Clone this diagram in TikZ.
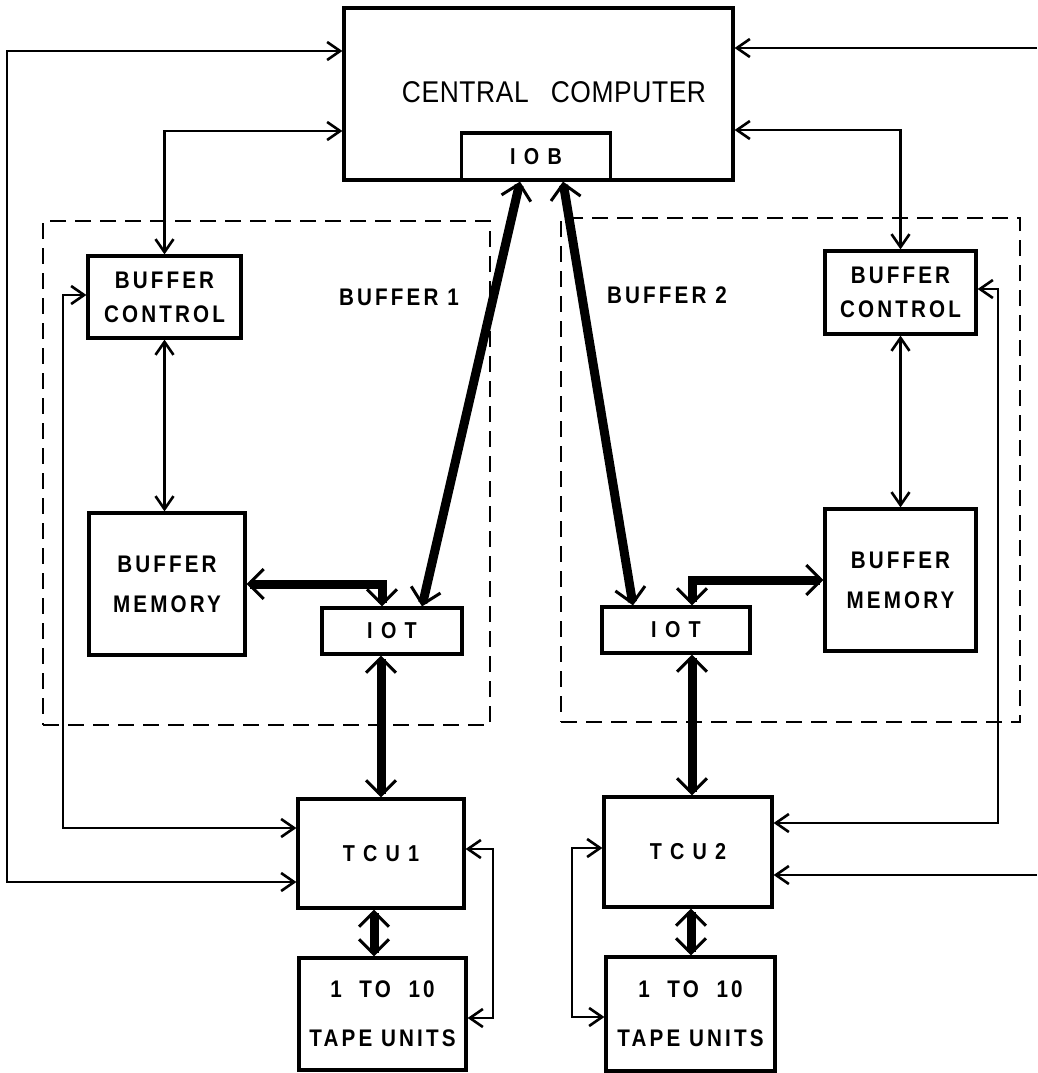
\documentclass[tikz,border=0pt]{standalone}
\usepackage{fontspec}
\setmainfont{Liberation Sans}
\newfontfamily\titlefont{Liberation Sans}[FakeStretch=0.88, LetterSpace=2]
\newfontfamily\boxfont{Liberation Sans}[LetterSpace=13, FakeStretch=0.86]
\newfontfamily\widefont{Liberation Sans}[LetterSpace=36, FakeStretch=0.86]
\newcommand\boxtext{\boxfont\bfseries\fontsize{24}{34}\selectfont}
\newcommand\widetext{\widefont\bfseries\fontsize{23}{34}\selectfont}
\newcommand\titletext{\titlefont\fontsize{30}{34}\selectfont}
\usetikzlibrary{arrows.meta}

\begin{document}
\begin{tikzpicture}[x=1pt, y=-1pt,
  >={Straight Barb[length=13pt, width=18pt]},
  box/.style={draw, line width=3.2pt, inner sep=0pt, align=center, font=\boxtext},
  thin_link/.style={line width=2.6pt},
  bus_link/.style={line width=9pt,
    {Straight Barb[length=15pt, width=30pt, line width=3pt]}-{Straight Barb[length=15pt, width=30pt, line width=3pt]}},
  group_frame/.style={draw, dash pattern=on 16pt off 9pt, line width=2.6pt, inner sep=0pt}]
\useasboundingbox (0,0) rectangle (1037,1073);

\node[name=central, box, minimum width=389pt, minimum height=172pt] at (538.5,94) {};
\node[name=central_text, font=\titletext] at (554,92) {CENTRAL\hspace{22pt}COMPUTER};
\node[name=iob, box, minimum width=149pt, minimum height=47pt, font=\widetext] at (536,156.5) {IOB};

\node[name=buffer_frame_1, group_frame, minimum width=447pt, minimum height=504pt] at (266.5,473) {};
\node[name=buffer_frame_2, group_frame, minimum width=459pt, minimum height=504pt] at (790.5,470) {};
\node[name=buffer_label_1, font=\boxtext] at (399,297) {BUFFER 1};
\node[name=buffer_label_2, font=\boxtext] at (667,295) {BUFFER 2};

\node[name=buf_ctrl_1, box, minimum width=153pt, minimum height=82pt] at (164.5,297) {BUFFER\\CONTROL};
\node[name=buf_ctrl_2, box, minimum width=151pt, minimum height=83pt] at (900.5,292.5) {BUFFER\\CONTROL};
\node[name=buf_mem_1, box, minimum width=156pt, minimum height=142pt] at (167,584) {BUFFER\\[6pt]MEMORY};
\node[name=buf_mem_2, box, minimum width=151pt, minimum height=142pt] at (900.5,580) {BUFFER\\[6pt]MEMORY};
\node[name=iot_1, box, minimum width=140pt, minimum height=46pt, font=\widetext] at (392,631) {IOT};
\node[name=iot_2, box, minimum width=148pt, minimum height=46pt, font=\widetext] at (676,630) {IOT};

\node[name=tcu_1, box, minimum width=166pt, minimum height=109pt, font=\widetext] at (381,853.5) {TCU1};
\node[name=tcu_2, box, minimum width=168pt, minimum height=110pt, font=\widetext] at (688,852) {TCU2};
\node[name=tape_1, box, minimum width=167pt, minimum height=112pt] at (382.5,1014) {1 \ TO \ 10\\[15pt]TAPE UNITS};
\node[name=tape_2, box, minimum width=169pt, minimum height=114pt] at (690.5,1014) {1 \ TO \ 10\\[15pt]TAPE UNITS};

% corner points of the control lines
\coordinate (outer_left_top) at (7,51);
\coordinate (outer_left_bottom) at (7,882);
\coordinate (ctrl_left_top) at (63,295);
\coordinate (ctrl_left_bottom) at (63,828);
\coordinate (cpu_link_1) at (0,131);
\coordinate (tape_loop_1_top) at (493,849);
\coordinate (tape_loop_1_bottom) at (493,1018);
\coordinate (outer_right_top) at (1037,48);
\coordinate (outer_right_bottom) at (1037,875);
\coordinate (ctrl_right_top) at (998,289);
\coordinate (ctrl_right_bottom) at (998,823);
\coordinate (cpu_link_2) at (0,130);
\coordinate (tape_loop_2_top) at (572,848);
\coordinate (tape_loop_2_bottom) at (572,1017);

% data buses
\draw[bus_link] (buf_mem_1.east) -| ([xshift=-10pt]iot_1.north);
\draw[bus_link] ([xshift=-16pt]iob.south) -- ([xshift=30pt]iot_1.north);
\draw[bus_link] (iot_1.south -| tcu_1.north) -- (tcu_1.north);
\draw[bus_link] ([xshift=-7pt]tcu_1.south) -- ([xshift=-7pt]tcu_1.south |- tape_1.north);
\draw[bus_link] (buf_mem_2.west) -| ([xshift=16pt]iot_2.north);
\draw[bus_link] ([xshift=27pt]iob.south) -- ([xshift=-43pt]iot_2.north);
\draw[bus_link] ([xshift=16pt]iot_2.south) -- ([xshift=16pt]iot_2.south |- tcu_2.north);
\draw[bus_link] ([xshift=3pt]tcu_2.south) -- ([xshift=3pt]tcu_2.south |- tape_2.north);

% control lines
\draw[thin_link, <->] (central.west |- outer_left_top) -- (outer_left_top) -- (outer_left_bottom) -- (tcu_1.west |- outer_left_bottom);
\draw[thin_link, <->] (central.west |- cpu_link_1) -| (buf_ctrl_1.north);
\draw[thin_link, <->] (buf_ctrl_1.south) -- (buf_ctrl_1.south |- buf_mem_1.north);
\draw[thin_link, <->] (buf_ctrl_1.west |- ctrl_left_top) -- (ctrl_left_top) -- (ctrl_left_bottom) -- (tcu_1.west |- ctrl_left_bottom);
\draw[thin_link, <->] (tcu_1.east |- tape_loop_1_top) -- (tape_loop_1_top) -- (tape_loop_1_bottom) -- (tape_1.east |- tape_loop_1_bottom);
\draw[thin_link, ->] (outer_right_top) -- (central.east |- outer_right_top);
\draw[thin_link, <->] (central.east |- cpu_link_2) -| (buf_ctrl_2.north);
\draw[thin_link, <->] (buf_ctrl_2.south) -- (buf_ctrl_2.south |- buf_mem_2.north);
\draw[thin_link, <->] (buf_ctrl_2.east |- ctrl_right_top) -- (ctrl_right_top) -- (ctrl_right_bottom) -- (tcu_2.east |- ctrl_right_bottom);
\draw[thin_link, ->] (outer_right_bottom) -- (tcu_2.east |- outer_right_bottom);
\draw[thin_link, <->] (tcu_2.west |- tape_loop_2_top) -- (tape_loop_2_top) -- (tape_loop_2_bottom) -- (tape_2.west |- tape_loop_2_bottom);
\end{tikzpicture}
\end{document}
